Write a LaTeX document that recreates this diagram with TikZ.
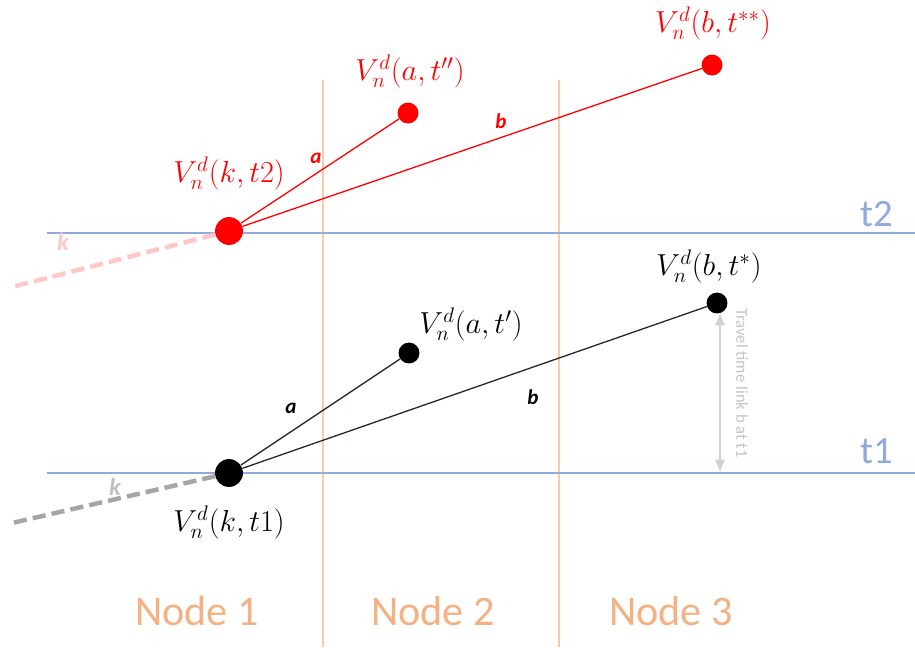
\documentclass[tikz,border=0pt]{standalone}
\usepackage{fontspec}
\setmainfont{Carlito}
\usetikzlibrary{arrows.meta}
\definecolor{tblue}{HTML}{8FAADC}
\definecolor{torange}{HTML}{F4B183}
\definecolor{tvert}{HTML}{F8CBAD}
\definecolor{tred}{HTML}{FF0000}
\definecolor{tpink}{HTML}{FFC7C7}
\definecolor{tgray}{HTML}{A6A6A6}
\definecolor{tlgray}{HTML}{D0D0D0}
\tikzset{
  bigdot/.style={circle, fill, inner sep=0pt, minimum size=28*0.567pt},
  smalldot/.style={circle, fill, inner sep=0pt, minimum size=21*0.567pt},
  tline/.style={tblue, line width=1.5*0.567pt},
  vline/.style={tvert, line width=1.2*0.567pt},
  nodelabel/.style={torange, font=\fontsize{24}{28}\selectfont},
  tlabel/.style={tblue, font=\fontsize{22}{26}\selectfont},
  mathlabel/.style={font=\fontsize{18}{22}\selectfont},
  linklabel/.style={font=\fontsize{12}{14}\selectfont\bfseries\itshape},
  klabel/.style={font=\fontsize{14}{16}\selectfont\bfseries\itshape},
  conn/.style={line width=1.3*0.567pt},
  kdash/.style={line width=4.5*0.567pt, dash pattern=on 7.5pt off 3.5pt}
}
\begin{document}
\begin{tikzpicture}[x=0.02cm,y=-0.02cm]
\useasboundingbox (0,0) rectangle (915,647);
% vertical separators
\coordinate (v1t) at (323,80); \coordinate (v1b) at (323,647);
\coordinate (v2t) at (559,80); \coordinate (v2b) at (559,647);
\draw[vline] (v1t) -- (v1b);
\draw[vline] (v2t) -- (v2b);
% time lines
\coordinate (t2s) at (47,233); \coordinate (t2e) at (915,233);
\coordinate (t1s) at (47,473); \coordinate (t1e) at (915,473);
\draw[tline] (t2s) -- (t2e);
\draw[tline] (t1s) -- (t1e);
\node[tlabel] (lt2) at (877,214) {t2};
\node[tlabel] (lt1) at (877,451) {t1};
% node labels
\node[nodelabel] (n1) at (197,611) {Node 1};
\node[nodelabel] (n2) at (433,611) {Node 2};
\node[nodelabel] (n3) at (671,611) {Node 3};
% red (t2)
\node[bigdot, tred] (kt2) at (229,231) {};
\node[smalldot, tred] (at2) at (408,113) {};
\node[smalldot, tred] (bt2) at (712,65) {};
\coordinate (kend2) at (12,287);
\draw[kdash, tpink] (kt2) -- (kend2);
\draw[conn, tred] (kt2) -- (at2);
\draw[conn, tred] (kt2) -- (bt2);
\node[klabel, tpink] (k2) at (63,242) {k};
\node[linklabel, tred] (a2) at (316,158) {a};
\node[linklabel, tred] (b2) at (501,121) {b};
\node[mathlabel, tred] (Lk2) at (229,173) {$V_n^d(k,t2)$};
\node[mathlabel, tred] (La2) at (410,71) {$V_n^d(a,t'')$};
\node[mathlabel, tred] (Lb2) at (713,23) {$V_n^d(b,t^{**})$};
% black (t1)
\node[bigdot, black] (kt1) at (229,473) {};
\node[smalldot, black] (at1) at (409,353) {};
\node[smalldot, black] (bt1) at (717,303) {};
\coordinate (kend1) at (12,523);
\draw[kdash, tgray] (kt1) -- (kend1);
\draw[conn, black!85] (kt1) -- (at1);
\draw[conn, black!85] (kt1) -- (bt1);
\node[klabel, tlgray!80!gray] (k1) at (115,487) {k};
\node[linklabel] (a1) at (291,408) {a};
\node[linklabel] (b1) at (533,397) {b};
\node[mathlabel] (Lk1) at (229,522) {$V_n^d(k,t1)$};
\node[mathlabel] (La1) at (471,324) {$V_n^d(a,t')$};
\node[mathlabel] (Lb1) at (709,266) {$V_n^d(b,t^*)$};
% travel time arrow
\coordinate (tta) at (720,313); \coordinate (ttb) at (720,472);
\draw[tlgray, line width=1.3*0.567pt, {Latex[length=7pt,width=6pt]}-{Latex[length=7pt,width=6pt]}] (tta) -- (ttb);
\node[tlgray!85!gray, rotate=-90, font=\fontsize{9.5}{11}\selectfont] (tt) at (742,383) {Travel time link b at t1};
\end{tikzpicture}
\end{document}
